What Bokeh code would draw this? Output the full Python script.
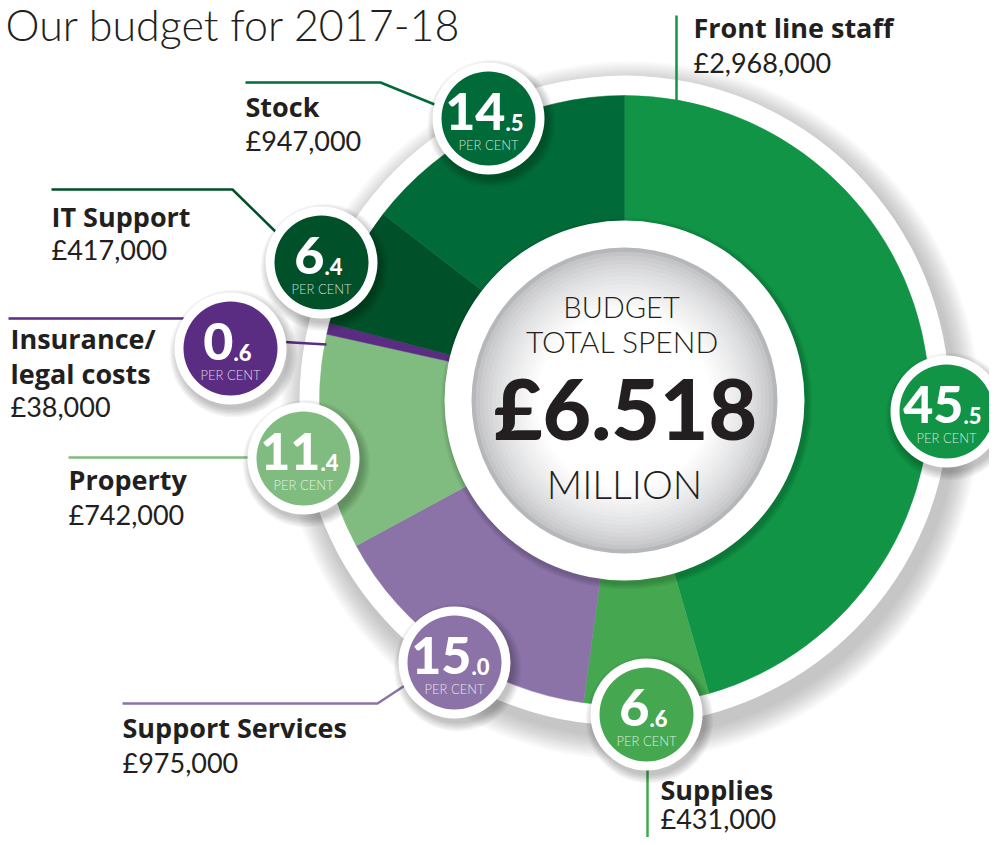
import math
from bokeh.plotting import figure
from bokeh.models import Range1d
from bokeh.core.properties import value
from bokeh.embed import file_html
from bokeh.resources import INLINE

# ---------------- data ----------------
categories = ["Front line staff", "Supplies", "Support Services", "Property",
              "Insurance/ legal costs", "IT Support", "Stock"]
amounts = [2968000, 431000, 975000, 742000, 38000, 417000, 947000]
amount_labels = ["£2,968,000", "£431,000", "£975,000", "£742,000", "£38,000", "£417,000", "£947,000"]
pct_whole = ["45", "6", "15", "11", "0", "6", "14"]
pct_frac = [".5", ".6", ".0", ".4", ".6", ".4", ".5"]
title_text = "Our budget for 2017-18"
centre_lines = ["BUDGET", "TOTAL SPEND", "£6.518", "MILLION"]

colors = ["#119446", "#45a851", "#8b73a8", "#80bc7f", "#5a2d82", "#00512a", "#006b38"]

# ---------------- layout (screen px of the reference) ----------------
W, H = 989, 837
def Y(sy):
    return H - sy

CX, CY = 624, 400
R_OUT, R_IN, R_BAND = 305, 180, 325

badges = [(946, 411), (646, 714), (454, 662), (303, 458), (230, 348), (321, 262), (488, 118)]
label_pos = [  # x, baseline of name (lines), baseline of amount
    (693, [37], 72),
    (660, [799], 828),
    (122, [737], 772),
    (68, [489], 524),
    (10, [348, 383], 416),
    (51, [226], 259),
    (245, [116], 150),
]
leaders = [
    [(676, 15), (676, 100)],
    [(647, 760), (647, 850)],
    [(122, 703), (377, 703), (412, 680)],
    [(68, 457), (260, 457)],
    [(8, 318), (195, 318)],
    [(51, 189), (232, 189), (282, 238)],
    [(245, 82), (380, 82), (444, 108)],
]
extra_leaders = [(4, [(275, 341), (326, 344)])]

TXT = "#231f20"
FONT = "Lato"
BOLD_FONT = "Open Sans"

p = figure(width=W, height=H, x_range=Range1d(0, W), y_range=Range1d(0, H),
           output_backend="svg", toolbar_location=None, min_border=0,
           x_axis_location=None, y_axis_location=None)
p.grid.visible = False
p.outline_line_color = None
p.background_fill_color = "white"
p.border_fill_color = "white"


def txt(x, base, s, fs, font=FONT, bold=False, align="left", color=TXT, alpha=1.0):
    p.text(x=[x], y=[Y(base - 0.37 * fs)], text=[s], text_font=value(font),
           text_font_size="%dpx" % fs, text_font_style="bold" if bold else "normal",
           text_align=align, text_baseline="middle", text_color=color, text_alpha=alpha)


# ring shadow
for i in range(16):
    p.circle(x=CX + 6, y=Y(CY + 10), radius=R_BAND + 2 + i * 1.5,
             fill_color="#6e6e70", fill_alpha=0.028, line_color=None)
p.circle(x=CX, y=Y(CY), radius=R_BAND, fill_color="white", line_color=None)

# slices
total = sum(amounts)
cum = 0.0
for a, c in zip(amounts, colors):
    s = cum / total
    cum += a
    e = cum / total
    p.annular_wedge(x=CX, y=Y(CY), inner_radius=R_IN - 2, outer_radius=R_OUT,
                    start_angle=math.pi / 2 - 2 * math.pi * s,
                    end_angle=math.pi / 2 - 2 * math.pi * e,
                    direction="clock", fill_color=c, line_color=c, line_width=0.5)

# inner white disc + shadow
for i in range(6):
    p.circle(x=CX + 2, y=Y(CY + 3), radius=R_IN + 1 + i,
             fill_color="#000000", fill_alpha=0.03, line_color=None)
p.circle(x=CX, y=Y(CY), radius=R_IN, fill_color="white", line_color=None)

# gradient disc
n = 30
edge = (182, 183, 186)
for i in range(n):
    t = i / (n - 1)
    r = 153 - t * 118
    f = min(1.0, t * 1.8) ** 0.6
    col = tuple(int(round(edge[k] + (255 - edge[k]) * f)) for k in range(3))
    p.circle(x=CX, y=Y(CY), radius=r, fill_color="#%02x%02x%02x" % col, line_color=None)

# centre text
txt(621, 317, centre_lines[0], 29, font="Lato Light", align="center")
txt(622, 352, centre_lines[1], 30, font="Lato Light", align="center")
txt(625, 438, centre_lines[2], 84, font="Lato Black", align="center")
txt(624, 498, centre_lines[3], 39, font="Lato Light", align="center")

# leader lines
for pts, c in zip(leaders, colors):
    p.line(x=[q[0] for q in pts], y=[Y(q[1]) for q in pts], line_color=c, line_width=2.5)
for idx, pts in extra_leaders:
    p.line(x=[q[0] for q in pts], y=[Y(q[1]) for q in pts], line_color=colors[idx], line_width=2.5)

# badges
for (bx, by), c, w, fr in zip(badges, colors, pct_whole, pct_frac):
    for i in range(7):
        p.circle(x=bx + 3, y=Y(by + 5), radius=56 + i * 1.3, fill_color="#000000",
                 fill_alpha=0.035, line_color=None)
    p.circle(x=bx, y=Y(by), radius=56, fill_color="white", line_color=None)
    p.circle(x=bx, y=Y(by), radius=47, fill_color=c, line_color=None)
    off = (len(w) * 28 + 22) / 2 - 22
    txt(bx + off, by + 12, w, 52, font="Lato Black", align="right", color="white")
    txt(bx + off, by + 12, fr, 22, font="Lato Black", align="left", color="white")
    txt(bx, by + 31, "PER CENT", 13, font="Lato Light", align="center", color="white", alpha=0.8)

# labels
for cat, amt, (lx, names_y, amt_y) in zip(categories, amount_labels, label_pos):
    parts = cat.split(" ", 1) if len(names_y) == 2 else [cat]
    for part, ny in zip(parts, names_y):
        txt(lx, ny, part, 27, font=BOLD_FONT, bold=True)
    txt(lx, amt_y, amt, 27)

# title
txt(5, 40, title_text, 43, font="Lato Light")

open("out.html", "w").write(file_html(p, INLINE))
